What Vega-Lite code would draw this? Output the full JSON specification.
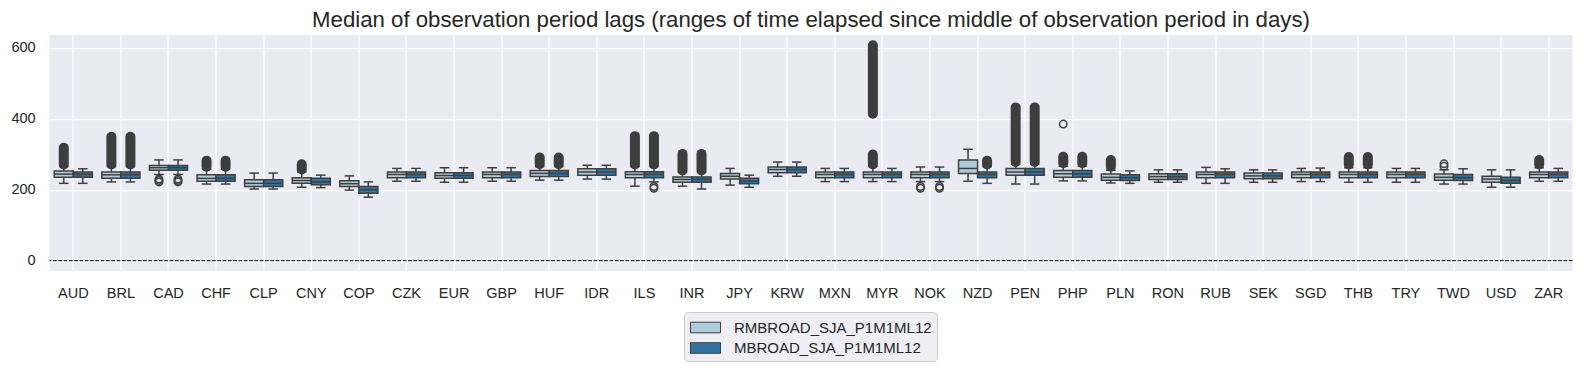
{
  "$schema": "https://vega.github.io/schema/vega-lite/v6.json",
  "autosize": "none",
  "width": 1523,
  "height": 236,
  "padding": {"left": 49.5, "top": 35, "right": 11.5, "bottom": 102},
  "background": "white",
  "title": {"text": "Median of observation period lags (ranges of time elapsed since middle of observation period in days)", "fontSize": 22.2, "font": "Liberation Sans", "fontWeight": "normal", "color": "#262626", "anchor": "middle", "baseline": "alphabetic", "offset": -14},
  "config": {
    "view": {"fill": "#eaeaf2", "stroke": null},
    "font": "Liberation Sans",
    "axis": {"grid": true, "gridColor": "#ffffff", "gridWidth": 1.25, "domain": false, "ticks": false, "tickSize": 0, "labelFont": "Liberation Sans", "labelFontSize": 14.5, "labelColor": "#262626", "title": null}
  },
  "datasets": {
    "boxes": [
      {"ccy":"AUD","s":"RMBROAD_SJA_P1M1ML12","q1":235,"med":244,"q3":253,"lw":218,"uw":265},
      {"ccy":"AUD","s":"MBROAD_SJA_P1M1ML12","q1":235,"med":243,"q3":250,"lw":218,"uw":259},
      {"ccy":"BRL","s":"RMBROAD_SJA_P1M1ML12","q1":232,"med":242,"q3":250,"lw":222,"uw":265},
      {"ccy":"BRL","s":"MBROAD_SJA_P1M1ML12","q1":232,"med":242,"q3":250,"lw":222,"uw":265},
      {"ccy":"CAD","s":"RMBROAD_SJA_P1M1ML12","q1":255,"med":262,"q3":268,"lw":243,"uw":284},
      {"ccy":"CAD","s":"MBROAD_SJA_P1M1ML12","q1":255,"med":262,"q3":268,"lw":243,"uw":284},
      {"ccy":"CHF","s":"RMBROAD_SJA_P1M1ML12","q1":224,"med":232,"q3":242,"lw":216,"uw":258},
      {"ccy":"CHF","s":"MBROAD_SJA_P1M1ML12","q1":224,"med":232,"q3":242,"lw":216,"uw":258},
      {"ccy":"CLP","s":"RMBROAD_SJA_P1M1ML12","q1":209,"med":218,"q3":228,"lw":202,"uw":247},
      {"ccy":"CLP","s":"MBROAD_SJA_P1M1ML12","q1":209,"med":218,"q3":228,"lw":202,"uw":247},
      {"ccy":"CNY","s":"RMBROAD_SJA_P1M1ML12","q1":218,"med":226,"q3":234,"lw":207,"uw":250},
      {"ccy":"CNY","s":"MBROAD_SJA_P1M1ML12","q1":214,"med":222,"q3":232,"lw":206,"uw":241},
      {"ccy":"COP","s":"RMBROAD_SJA_P1M1ML12","q1":209,"med":217,"q3":225,"lw":199,"uw":239},
      {"ccy":"COP","s":"MBROAD_SJA_P1M1ML12","q1":190,"med":200,"q3":209,"lw":179,"uw":222},
      {"ccy":"CZK","s":"RMBROAD_SJA_P1M1ML12","q1":234,"med":243,"q3":250,"lw":224,"uw":260},
      {"ccy":"CZK","s":"MBROAD_SJA_P1M1ML12","q1":234,"med":243,"q3":250,"lw":224,"uw":260},
      {"ccy":"EUR","s":"RMBROAD_SJA_P1M1ML12","q1":232,"med":240,"q3":248,"lw":221,"uw":262},
      {"ccy":"EUR","s":"MBROAD_SJA_P1M1ML12","q1":232,"med":240,"q3":248,"lw":221,"uw":262},
      {"ccy":"GBP","s":"RMBROAD_SJA_P1M1ML12","q1":234,"med":243,"q3":250,"lw":224,"uw":262},
      {"ccy":"GBP","s":"MBROAD_SJA_P1M1ML12","q1":234,"med":243,"q3":250,"lw":224,"uw":262},
      {"ccy":"HUF","s":"RMBROAD_SJA_P1M1ML12","q1":237,"med":246,"q3":254,"lw":227,"uw":265},
      {"ccy":"HUF","s":"MBROAD_SJA_P1M1ML12","q1":237,"med":246,"q3":254,"lw":227,"uw":265},
      {"ccy":"IDR","s":"RMBROAD_SJA_P1M1ML12","q1":241,"med":250,"q3":259,"lw":230,"uw":269},
      {"ccy":"IDR","s":"MBROAD_SJA_P1M1ML12","q1":241,"med":250,"q3":259,"lw":230,"uw":269},
      {"ccy":"ILS","s":"RMBROAD_SJA_P1M1ML12","q1":234,"med":243,"q3":251,"lw":210,"uw":265},
      {"ccy":"ILS","s":"MBROAD_SJA_P1M1ML12","q1":234,"med":243,"q3":251,"lw":222,"uw":265},
      {"ccy":"INR","s":"RMBROAD_SJA_P1M1ML12","q1":221,"med":229,"q3":236,"lw":210,"uw":250},
      {"ccy":"INR","s":"MBROAD_SJA_P1M1ML12","q1":221,"med":229,"q3":236,"lw":202,"uw":250},
      {"ccy":"JPY","s":"RMBROAD_SJA_P1M1ML12","q1":230,"med":238,"q3":246,"lw":213,"uw":260},
      {"ccy":"JPY","s":"MBROAD_SJA_P1M1ML12","q1":217,"med":224,"q3":232,"lw":207,"uw":241},
      {"ccy":"KRW","s":"RMBROAD_SJA_P1M1ML12","q1":248,"med":257,"q3":264,"lw":238,"uw":278},
      {"ccy":"KRW","s":"MBROAD_SJA_P1M1ML12","q1":248,"med":257,"q3":264,"lw":238,"uw":278},
      {"ccy":"MXN","s":"RMBROAD_SJA_P1M1ML12","q1":234,"med":243,"q3":250,"lw":223,"uw":260},
      {"ccy":"MXN","s":"MBROAD_SJA_P1M1ML12","q1":234,"med":243,"q3":250,"lw":223,"uw":260},
      {"ccy":"MYR","s":"RMBROAD_SJA_P1M1ML12","q1":234,"med":243,"q3":250,"lw":223,"uw":265},
      {"ccy":"MYR","s":"MBROAD_SJA_P1M1ML12","q1":234,"med":243,"q3":250,"lw":223,"uw":260},
      {"ccy":"NOK","s":"RMBROAD_SJA_P1M1ML12","q1":234,"med":243,"q3":250,"lw":223,"uw":264},
      {"ccy":"NOK","s":"MBROAD_SJA_P1M1ML12","q1":234,"med":243,"q3":250,"lw":223,"uw":264},
      {"ccy":"NZD","s":"RMBROAD_SJA_P1M1ML12","q1":246,"med":260,"q3":284,"lw":224,"uw":314},
      {"ccy":"NZD","s":"MBROAD_SJA_P1M1ML12","q1":234,"med":243,"q3":250,"lw":218,"uw":265},
      {"ccy":"PEN","s":"RMBROAD_SJA_P1M1ML12","q1":241,"med":250,"q3":260,"lw":216,"uw":272},
      {"ccy":"PEN","s":"MBROAD_SJA_P1M1ML12","q1":241,"med":250,"q3":260,"lw":216,"uw":272},
      {"ccy":"PHP","s":"RMBROAD_SJA_P1M1ML12","q1":235,"med":245,"q3":254,"lw":225,"uw":266},
      {"ccy":"PHP","s":"MBROAD_SJA_P1M1ML12","q1":235,"med":245,"q3":254,"lw":225,"uw":266},
      {"ccy":"PLN","s":"RMBROAD_SJA_P1M1ML12","q1":227,"med":235,"q3":244,"lw":219,"uw":255},
      {"ccy":"PLN","s":"MBROAD_SJA_P1M1ML12","q1":226,"med":234,"q3":242,"lw":218,"uw":253},
      {"ccy":"RON","s":"RMBROAD_SJA_P1M1ML12","q1":229,"med":237,"q3":245,"lw":221,"uw":256},
      {"ccy":"RON","s":"MBROAD_SJA_P1M1ML12","q1":229,"med":237,"q3":245,"lw":221,"uw":256},
      {"ccy":"RUB","s":"RMBROAD_SJA_P1M1ML12","q1":234,"med":243,"q3":250,"lw":218,"uw":263},
      {"ccy":"RUB","s":"MBROAD_SJA_P1M1ML12","q1":234,"med":243,"q3":250,"lw":218,"uw":259},
      {"ccy":"SEK","s":"RMBROAD_SJA_P1M1ML12","q1":231,"med":239,"q3":247,"lw":221,"uw":256},
      {"ccy":"SEK","s":"MBROAD_SJA_P1M1ML12","q1":231,"med":239,"q3":247,"lw":221,"uw":256},
      {"ccy":"SGD","s":"RMBROAD_SJA_P1M1ML12","q1":234,"med":243,"q3":250,"lw":223,"uw":260},
      {"ccy":"SGD","s":"MBROAD_SJA_P1M1ML12","q1":234,"med":243,"q3":250,"lw":223,"uw":261},
      {"ccy":"THB","s":"RMBROAD_SJA_P1M1ML12","q1":234,"med":243,"q3":250,"lw":221,"uw":262},
      {"ccy":"THB","s":"MBROAD_SJA_P1M1ML12","q1":234,"med":243,"q3":250,"lw":221,"uw":262},
      {"ccy":"TRY","s":"RMBROAD_SJA_P1M1ML12","q1":234,"med":243,"q3":250,"lw":221,"uw":260},
      {"ccy":"TRY","s":"MBROAD_SJA_P1M1ML12","q1":234,"med":243,"q3":250,"lw":221,"uw":260},
      {"ccy":"TWD","s":"RMBROAD_SJA_P1M1ML12","q1":227,"med":235,"q3":244,"lw":216,"uw":256},
      {"ccy":"TWD","s":"MBROAD_SJA_P1M1ML12","q1":226,"med":234,"q3":243,"lw":216,"uw":259},
      {"ccy":"USD","s":"RMBROAD_SJA_P1M1ML12","q1":221,"med":230,"q3":238,"lw":207,"uw":256},
      {"ccy":"USD","s":"MBROAD_SJA_P1M1ML12","q1":218,"med":226,"q3":235,"lw":207,"uw":256},
      {"ccy":"ZAR","s":"RMBROAD_SJA_P1M1ML12","q1":234,"med":243,"q3":250,"lw":224,"uw":262},
      {"ccy":"ZAR","s":"MBROAD_SJA_P1M1ML12","q1":234,"med":243,"q3":250,"lw":224,"uw":260}
    ],
    "clusters": [
      {"ccy":"AUD","s":"RMBROAD_SJA_P1M1ML12","lo":271,"hi":318},
      {"ccy":"BRL","s":"RMBROAD_SJA_P1M1ML12","lo":271,"hi":349},
      {"ccy":"BRL","s":"MBROAD_SJA_P1M1ML12","lo":271,"hi":349},
      {"ccy":"CHF","s":"RMBROAD_SJA_P1M1ML12","lo":265,"hi":282},
      {"ccy":"CHF","s":"MBROAD_SJA_P1M1ML12","lo":265,"hi":282},
      {"ccy":"CNY","s":"RMBROAD_SJA_P1M1ML12","lo":257,"hi":272},
      {"ccy":"HUF","s":"RMBROAD_SJA_P1M1ML12","lo":272,"hi":291},
      {"ccy":"HUF","s":"MBROAD_SJA_P1M1ML12","lo":272,"hi":291},
      {"ccy":"ILS","s":"RMBROAD_SJA_P1M1ML12","lo":271,"hi":351},
      {"ccy":"ILS","s":"MBROAD_SJA_P1M1ML12","lo":271,"hi":351},
      {"ccy":"INR","s":"RMBROAD_SJA_P1M1ML12","lo":254,"hi":301},
      {"ccy":"INR","s":"MBROAD_SJA_P1M1ML12","lo":254,"hi":301},
      {"ccy":"MYR","s":"RMBROAD_SJA_P1M1ML12","lo":271,"hi":299},
      {"ccy":"MYR","s":"RMBROAD_SJA_P1M1ML12","lo":414,"hi":607},
      {"ccy":"NZD","s":"MBROAD_SJA_P1M1ML12","lo":271,"hi":282},
      {"ccy":"PEN","s":"RMBROAD_SJA_P1M1ML12","lo":278,"hi":432},
      {"ccy":"PEN","s":"MBROAD_SJA_P1M1ML12","lo":278,"hi":432},
      {"ccy":"PHP","s":"RMBROAD_SJA_P1M1ML12","lo":275,"hi":293},
      {"ccy":"PHP","s":"MBROAD_SJA_P1M1ML12","lo":275,"hi":293},
      {"ccy":"PLN","s":"RMBROAD_SJA_P1M1ML12","lo":265,"hi":284},
      {"ccy":"THB","s":"RMBROAD_SJA_P1M1ML12","lo":271,"hi":292},
      {"ccy":"THB","s":"MBROAD_SJA_P1M1ML12","lo":271,"hi":292},
      {"ccy":"ZAR","s":"RMBROAD_SJA_P1M1ML12","lo":271,"hi":284}
    ],
    "singles": [
      {"ccy":"CAD","s":"RMBROAD_SJA_P1M1ML12","v":222},
      {"ccy":"CAD","s":"RMBROAD_SJA_P1M1ML12","v":226},
      {"ccy":"CAD","s":"RMBROAD_SJA_P1M1ML12","v":230},
      {"ccy":"CAD","s":"MBROAD_SJA_P1M1ML12","v":222},
      {"ccy":"CAD","s":"MBROAD_SJA_P1M1ML12","v":226},
      {"ccy":"CAD","s":"MBROAD_SJA_P1M1ML12","v":230},
      {"ccy":"ILS","s":"MBROAD_SJA_P1M1ML12","v":204},
      {"ccy":"ILS","s":"MBROAD_SJA_P1M1ML12","v":209},
      {"ccy":"NOK","s":"RMBROAD_SJA_P1M1ML12","v":204},
      {"ccy":"NOK","s":"RMBROAD_SJA_P1M1ML12","v":209},
      {"ccy":"NOK","s":"MBROAD_SJA_P1M1ML12","v":204},
      {"ccy":"NOK","s":"MBROAD_SJA_P1M1ML12","v":209},
      {"ccy":"PHP","s":"RMBROAD_SJA_P1M1ML12","v":385},
      {"ccy":"TWD","s":"RMBROAD_SJA_P1M1ML12","v":266},
      {"ccy":"TWD","s":"RMBROAD_SJA_P1M1ML12","v":273}
    ],
    "zero": [{"y": 0}]
  },
  "encoding": {
    "x": {"field": "ccy", "type": "nominal", "sort": null,
      "scale": {"domain": ["AUD","BRL","CAD","CHF","CLP","CNY","COP","CZK","EUR","GBP","HUF","IDR","ILS","INR","JPY","KRW","MXN","MYR","NOK","NZD","PEN","PHP","PLN","RON","RUB","SEK","SGD","THB","TRY","TWD","USD","ZAR"], "paddingInner": 0.2, "paddingOuter": 0.1},
      "axis": {"labelAngle": 0, "bandPosition": 0.5, "labelBaseline": "alphabetic", "labelPadding": 26}},
    "xOffset": {"field": "s", "type": "nominal", "scale": {"domain": ["RMBROAD_SJA_P1M1ML12", "MBROAD_SJA_P1M1ML12"], "paddingInner": 0, "paddingOuter": 0}}
  },
  "layer": [
    {
      "data": {"name": "zero"},
      "mark": {"type": "rule", "color": "#000000", "strokeWidth": 1, "strokeDash": [3.7, 1.6]},
      "encoding": {"x": null, "xOffset": null, "y": {"field": "y", "type": "quantitative"}}
    },
    {
      "data": {"name": "boxes"},
      "mark": {"type": "rule", "color": "#3f3f3f", "strokeWidth": 1.5},
      "encoding": {"y": {"field": "lw", "type": "quantitative", "scale": {"domain": [-29, 636], "nice": false, "zero": false}, "axis": {"values": [0,100,200,300,400,500,600], "labelBaseline": "middle", "labelPadding": 14.4}}, "y2": {"field": "q1"}}
    },
    {
      "data": {"name": "boxes"},
      "mark": {"type": "rule", "color": "#3f3f3f", "strokeWidth": 1.5},
      "encoding": {"y": {"field": "q3", "type": "quantitative"}, "y2": {"field": "uw"}}
    },
    {
      "data": {"name": "boxes"},
      "mark": {"type": "tick", "color": "#3f3f3f", "thickness": 1.5, "size": 9.5, "opacity": 1},
      "encoding": {"y": {"field": "lw", "type": "quantitative"}}
    },
    {
      "data": {"name": "boxes"},
      "mark": {"type": "tick", "color": "#3f3f3f", "thickness": 1.5, "size": 9.5, "opacity": 1},
      "encoding": {"y": {"field": "uw", "type": "quantitative"}}
    },
    {
      "data": {"name": "boxes"},
      "mark": {"type": "bar", "stroke": "#3f3f3f", "strokeWidth": 1.5, "opacity": 1},
      "encoding": {
        "y": {"field": "q1", "type": "quantitative"}, "y2": {"field": "q3"},
        "color": {"field": "s", "type": "nominal", "scale": {"domain": ["RMBROAD_SJA_P1M1ML12", "MBROAD_SJA_P1M1ML12"], "range": ["#aeccdb", "#3274a1"]},
          "legend": {"orient": "none", "legendX": 634.5, "legendY": 277, "direction": "vertical", "title": null, "fillColor": "#eeeef4", "strokeColor": "#cccccc", "cornerRadius": 4, "padding": 5, "symbolType": "M-1.5,-0.53H1.5V0.53H-1.5Z", "symbolSize": 400, "symbolOffset": 6, "symbolStrokeColor": "#3f3f3f", "symbolStrokeWidth": 1, "symbolOpacity": 1, "labelFontSize": 15, "labelFont": "Liberation Sans", "labelColor": "#262626", "labelOffset": 18, "rowPadding": 1.5, "labelLimit": 400}}
      }
    },
    {
      "data": {"name": "boxes"},
      "mark": {"type": "tick", "color": "#3f3f3f", "thickness": 1.5, "size": 19, "opacity": 1},
      "encoding": {"y": {"field": "med", "type": "quantitative"}}
    },
    {
      "data": {"name": "clusters"},
      "mark": {"type": "rule", "color": "#3d3d3d", "strokeWidth": 10, "strokeCap": "round"},
      "encoding": {"y": {"field": "lo", "type": "quantitative"}, "y2": {"field": "hi"}}
    },
    {
      "data": {"name": "singles"},
      "mark": {"type": "point", "shape": "circle", "filled": false, "stroke": "#3f3f3f", "strokeWidth": 1.5, "size": 56, "opacity": 1},
      "encoding": {"y": {"field": "v", "type": "quantitative"}}
    }
  ]
}
